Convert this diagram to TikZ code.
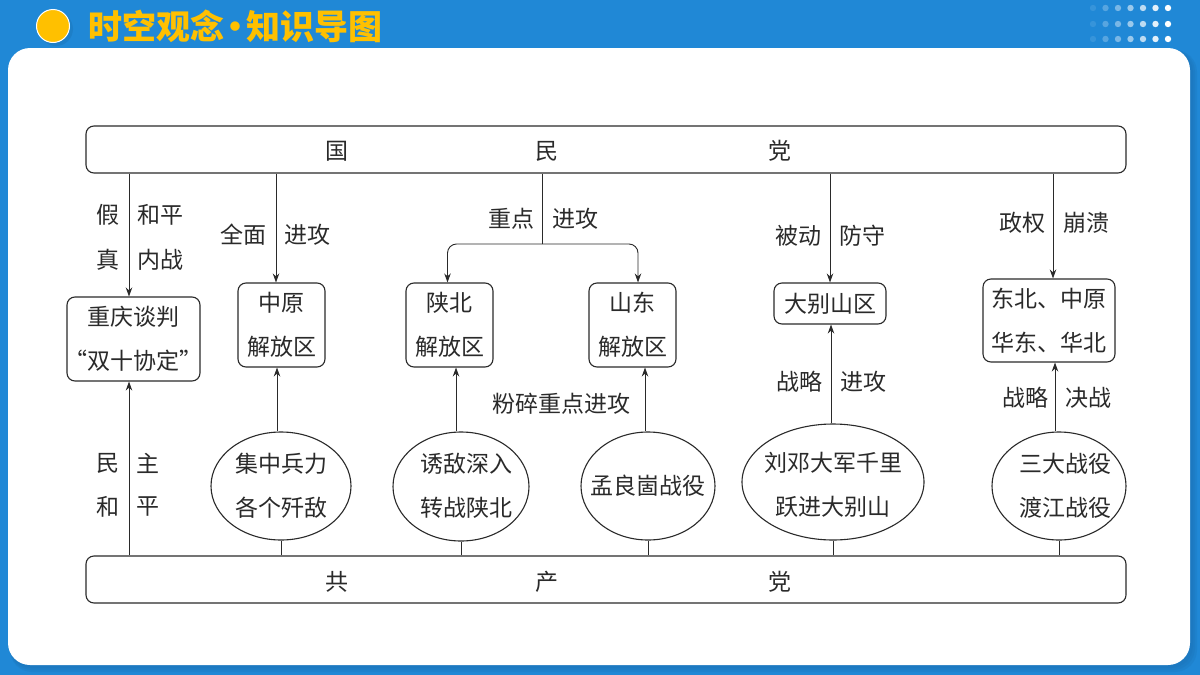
\documentclass[tikz,border=0pt]{standalone}
\usepackage{fontspec}
\setmainfont{Noto Sans CJK SC}
\usetikzlibrary{shapes.geometric}
\usetikzlibrary{arrows.meta}
\definecolor{bgblue}{HTML}{2088D6}
\definecolor{dkblue}{HTML}{1A6FB0}
\definecolor{gold}{HTML}{FFC000}
\definecolor{ink}{HTML}{2A2A2A}

\begin{document}
\begin{tikzpicture}[x=1pt,y=-1pt,
  txt/.style={font=\fontsize{23}{44}\selectfont, text=ink, inner sep=0pt, align=center, yshift=-1pt},
  bar/.style={draw=ink, rounded corners=8pt, line width=1.1pt, minimum width=1040pt, minimum height=47pt, inner sep=0pt},
  box/.style={txt, draw=ink, rounded corners=8pt, line width=1.1pt, yshift=1pt},
  oval/.style={ellipse, draw=ink, line width=1.1pt, inner sep=0pt},
  arr/.style={draw=ink, line width=0.9pt, -{Stealth[length=9pt,width=6.5pt]}},
  stem/.style={draw=ink, line width=0.9pt}]
\useasboundingbox (0,0) rectangle (1200,675);

  % background
  \fill[bgblue] (0,0) rectangle (1200,675);
  \foreach \k in {7,5,3} {
    \fill[dkblue,opacity=0.22,rounded corners=22pt] (10,50) rectangle (1190+\k,665+\k);
  }
  \fill[white,rounded corners=22pt] (8,48) rectangle (1190,665);

  % title
  \fill[dkblue,opacity=0.35] (56,29) circle (17pt);
  \node[circle, fill=gold, draw=white, line width=1pt, minimum size=33pt, inner sep=0pt] (dot) at (53,26) {};
  \node[font=\fontsize{34}{36}\bfseries\selectfont, text=gold, inner sep=0pt] (title) at (235,26)
        {时空观念\kern-6pt·\kern-6pt知识导图};
  \foreach \y in {8,24,39} {
    \foreach \c/\o in {0/0.10,1/0.25,2/0.40,3/0.55,4/0.70,5/0.88,6/1} {
      \fill[white,opacity=\o] (1093+12.5*\c,\y) circle (3.2pt);
    }
  }

  % parties
  \node[bar] (guo) at (606,149.5) {};
  \node[txt] (guo1) at (337,150) {国};
  \node[txt] (guo2) at (547,150) {民};
  \node[txt] (guo3) at (780,150) {党};
  \node[bar] (gong) at (606,579.5) {};
  \node[txt] (gong1) at (337,581) {共};
  \node[txt] (gong2) at (547,581) {产};
  \node[txt] (gong3) at (780,581) {党};

  % areas
  \node[box, inner xsep=-3pt, minimum width=133pt, minimum height=84pt] (chongqing) at (133.5,339) {重庆谈判\\“双十协定”};
  \node[box, minimum width=87pt, minimum height=84pt] (zhongyuan) at (281.5,325) {中原\\解放区};
  \node[box, minimum width=87pt, minimum height=84pt] (shanbei) at (449.5,325) {陕北\\解放区};
  \node[box, minimum width=87pt, minimum height=84pt] (shandong) at (632.5,325) {山东\\解放区};
  \node[box, minimum width=112pt, minimum height=41pt] (dabie) at (830,303.5) {大别山区};
  \node[box, minimum width=132pt, minimum height=83pt] (dongbei) at (1049,320.5) {东北、中原\\华东、华北};

  % battles
  \node[oval, minimum width=140pt, minimum height=108pt] (jizhong) at (281,486) {};
  \node[txt] (jizhongt) at (281,485) {集中兵力\\各个歼敌};
  \node[oval, minimum width=136pt, minimum height=109pt] (youdi) at (461,486.5) {};
  \node[txt] (youdit) at (466,485) {诱敌深入\\转战陕北};
  \node[oval, minimum width=134pt, minimum height=108pt] (menglg) at (648,486) {};
  \node[txt] (menglgt) at (648,485) {孟良崮战役};
  \node[oval, minimum width=182pt, minimum height=116pt] (liudeng) at (833,482) {};
  \node[txt] (liudengt) at (833,484) {刘邓大军千里\\跃进大别山};
  \node[oval, minimum width=134pt, minimum height=108pt] (sanda) at (1059,486) {};
  \node[txt] (sandat) at (1065,485) {三大战役\\渡江战役};

  % from the top bar
  \draw[arr] ([xshift=-4.5pt]chongqing.north |- guo.south) -- ([xshift=-4.5pt]chongqing.north);
  \draw[arr] ([xshift=-5.5pt]zhongyuan.north |- guo.south) -- ([xshift=-5.5pt]zhongyuan.north);
  \draw[arr] (dabie.north |- guo.south) -- (dabie.north);
  \draw[arr] ([xshift=4pt]dongbei.north |- guo.south) -- ([xshift=4pt]dongbei.north);
  \coordinate (fork) at (542,244);
  \draw[stem] (fork |- guo.south) -- (fork);
  \draw[arr, rounded corners=9pt] (fork) -- ([xshift=-2pt]shanbei.north |- fork) -- ([xshift=-2pt]shanbei.north);
  \draw[arr, rounded corners=9pt] (fork) -- ([xshift=5.5pt]shandong.north |- fork) -- ([xshift=5.5pt]shandong.north);

  % from the bottom bar
  \draw[arr] ([xshift=-4.5pt]chongqing.south |- gong.north) -- ([xshift=-4.5pt]chongqing.south);
  \foreach \oname in {jizhong,youdi,menglg,liudeng,sanda} {
    \draw[stem] (\oname.south |- gong.north) -- (\oname.south);
  }
  \draw[arr] ([xshift=-4.5pt]zhongyuan.south |- jizhong.north) -- ([xshift=-4.5pt]zhongyuan.south);
  \draw[arr] ([xshift=6.5pt]shanbei.south |- youdi.north) -- ([xshift=6.5pt]shanbei.south);
  \draw[arr] ([xshift=12.5pt]shandong.south |- menglg.north) -- ([xshift=12.5pt]shandong.south);
  \draw[arr] ([xshift=1pt]dabie.south |- liudeng.north) -- ([xshift=1pt]dabie.south);
  \draw[arr] ([xshift=6pt]dongbei.south |- sanda.north) -- ([xshift=6pt]dongbei.south);

  % labels
  \foreach \name/\lx/\ly/\word in {
    la/108/214/假, lb/160/214/和平, lc/108/259/真, ld/160/259/内战,
    le/243/234/全面, lf/307/234/进攻, lg/511/218/重点, lh/575/218/进攻,
    li/798/235/被动, lj/862/235/防守, lk/1022/222/政权, ll/1086/222/崩溃,
    lm/799/381/战略, ln/863/381/进攻, lo/1025/397/战略, lp/1088/397/决战,
    lq/561/403/粉碎重点进攻, lr/108/462/民, ls/148/462/主, lt/108/506/和, lu/148/506/平} {
    \node[txt] (\name) at (\lx,\ly) {\word};
  }

\end{tikzpicture}
\end{document}
